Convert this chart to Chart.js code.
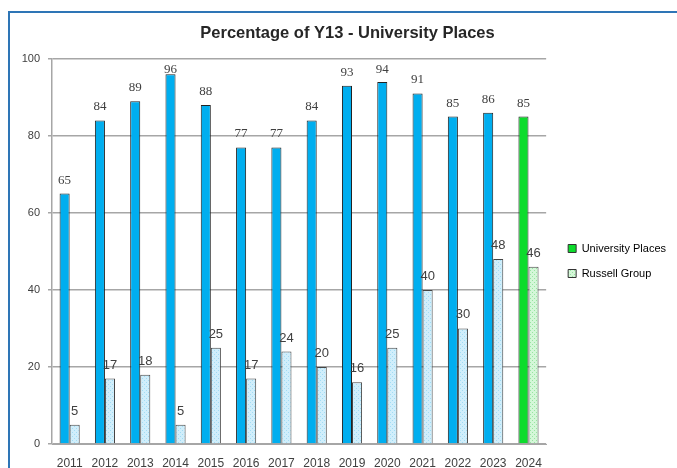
<!DOCTYPE html>
<html>
<head>
<meta charset="utf-8">
<script src="https://cdn.jsdelivr.net/npm/chart.js@4.4.1/dist/chart.umd.min.js"></script>
<style>
  html, body { margin: 0; padding: 0; background: #fff; overflow: hidden; }
  #frame {
    position: absolute; left: 8px; top: 11px;
    width: 720px; height: 520px;
    border: 2px solid #2e75b6;
  }
  #wrap { position: absolute; left: 0; top: 0; width: 677px; height: 468px; }
</style>
</head>
<body>
<div id="frame"></div>
<div id="wrap"><canvas id="uniChart" width="677" height="468"></canvas></div>
<script>
// Chart data
const years = ["2011", "2012", "2013", "2014", "2015", "2016", "2017",
  "2018", "2019", "2020", "2021", "2022", "2023", "2024"];
const universityPlaces = [65, 84, 89, 96, 88, 77, 77, 84, 93, 94, 91, 85, 86, 85];
const russellGroup = [5, 17, 18, 5, 25, 17, 24, 20, 16, 25, 40, 30, 48, 46];
const yTickMax = 100;
const yTickStep = 20;

// dotted fill like the Excel pattern
function makePattern(base, dot) {
  const c = document.createElement("canvas");
  c.width = 4;
  c.height = 4;
  const g = c.getContext("2d");
  g.fillStyle = base;
  g.fillRect(0, 0, 4, 4);
  g.fillStyle = dot;
  g.fillRect(0, 0, 1, 1);
  g.fillRect(2, 2, 1, 1);
  return g.createPattern(c, "repeat");
}

const blue = "#00aeef";
const green = "#0cdc2c";
const lightBlue = makePattern("#d0eefb", "#a2dcf4");
const lightGreen = makePattern("#d4f7d8", "#98e4a2");

const lastIdx = years.length - 1;
const uniColors = years.map((y, i) => (i === lastIdx ? green : blue));
const russellColors = years.map((y, i) => (i === lastIdx ? lightGreen : lightBlue));

// value labels above the bars
const barLabels = {
  id: "barLabels",
  afterDatasetsDraw(chart) {
    const ctx = chart.ctx;
    const top = chart.chartArea.top;
    chart.data.datasets.forEach((ds, i) => {
      const meta = chart.getDatasetMeta(i);
      ctx.save();
      ctx.font = i === 0 ? '13px "Liberation Serif"' : '13px "Liberation Sans"';
      ctx.fillStyle = "#404040";
      ctx.textAlign = "center";
      ctx.textBaseline = "alphabetic";
      meta.data.forEach((bar, j) => {
        const y = Math.max(bar.y - 10, top + 14);
        ctx.fillText(String(ds.data[j]), bar.x, y);
      });
      ctx.restore();
    });
  },
};

// nudge legend and title to where Excel put them
const boxNudge = {
  id: "boxNudge",
  beforeDraw(chart) {
    const lg = chart.legend;
    const tt = chart.titleBlock;
    if (lg && !lg._nudged) {
      lg.left += 8;
      lg.right += 8;
      lg.top += 27;
      lg.bottom += 27;
      lg._nudged = true;
    }
    if (tt && !tt._nudged) {
      tt.left += 4;
      tt.right += 4;
      tt._nudged = true;
    }
  },
  afterUpdate(chart) {
    if (chart.legend) chart.legend._nudged = false;
    if (chart.titleBlock) chart.titleBlock._nudged = false;
  },
};

const ctx = document.getElementById("uniChart").getContext("2d");

new Chart(ctx, {
  type: "bar",
  data: {
    labels: years,
    datasets: [
      {
        label: "University Places",
        data: universityPlaces,
        backgroundColor: uniColors,
        borderColor: "#222",
        borderWidth: 1,
        barPercentage: 1,
        categoryPercentage: 0.57,
      },
      {
        label: "Russell Group",
        data: russellGroup,
        backgroundColor: russellColors,
        borderColor: "#444",
        borderWidth: 1,
        barPercentage: 1,
        categoryPercentage: 0.57,
      },
    ],
  },
  options: {
    responsive: false,
    animation: false,
    layout: { padding: { top: 0, left: 19, right: 9, bottom: 0 } },
    scales: {
      x: {
        grid: { display: false },
        border: { color: "#a6a6a6", width: 1 },
        ticks: {
          color: "#404040",
          font: { family: "Liberation Sans", size: 12 },
          padding: 4,
          maxRotation: 0,
          autoSkip: false,
        },
        afterFit(scale) {
          scale.height = 24;
        },
      },
      y: {
        min: 0,
        max: yTickMax,
        ticks: {
          stepSize: yTickStep,
          color: "#404040",
          font: { family: "Liberation Sans", size: 11 },
          padding: 8,
        },
        grid: { color: "#a6a6a6", lineWidth: 1.5, tickLength: 4 },
        border: { color: "#a6a6a6", width: 1.5 },
        afterFit(scale) {
          scale.width = 33;
        },
      },
    },
    plugins: {
      title: {
        display: true,
        text: "Percentage of Y13 - University Places",
        color: "#262626",
        font: { family: "Liberation Sans", size: 16.5, weight: "bold" },
        padding: { top: 24, bottom: 15 },
      },
      legend: {
        position: "right",
        labels: {
          boxWidth: 8,
          boxHeight: 8,
          padding: 14,
          color: "#404040",
          font: { family: "Liberation Sans", size: 11 },
          generateLabels(chart) {
            return chart.data.datasets.map((ds, i) => ({
              text: ds.label,
              fillStyle: ds.backgroundColor[lastIdx],
              strokeStyle: "#333",
              lineWidth: 1,
              hidden: !chart.isDatasetVisible(i),
              datasetIndex: i,
            }));
          },
        },
      },
      tooltip: { enabled: false },
    },
  },
  plugins: [barLabels, boxNudge],
});
</script>
</body>
</html>
